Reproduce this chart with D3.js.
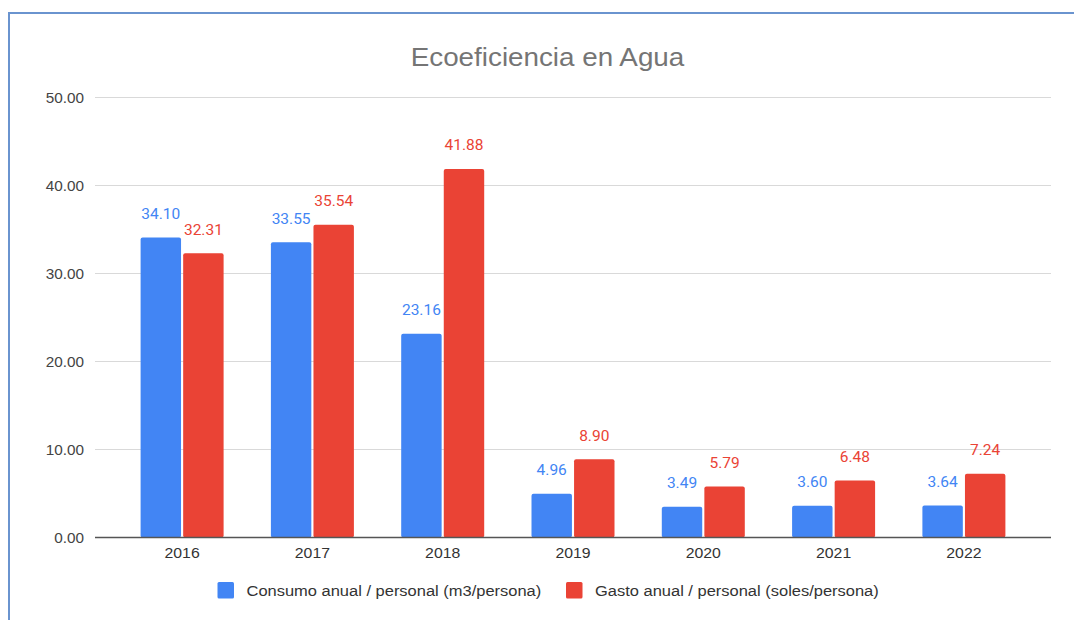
<!DOCTYPE html>
<html>
<head>
<meta charset="utf-8">
<script src="https://cdn.jsdelivr.net/npm/d3@7"></script>
<style>
  body { margin: 0; background: #fff; }
  svg { display: block; }
</style>
</head>
<body>
<div id="chart"></div>
<script>
const years = ['2016', '2017', '2018', '2019', '2020', '2021', '2022'];
const consumo = [34.10, 33.55, 23.16, 4.96, 3.49, 3.60, 3.64];
const gasto = [32.31, 35.54, 41.88, 8.90, 5.79, 6.48, 7.24];
const seriesNames = ['Consumo anual / personal (m3/persona)', 'Gasto anual / personal (soles/persona)'];
const seriesColors = ['#4285f4', '#ea4335'];
const yTicks = [0, 10, 20, 30, 40, 50];

const width = 1074, height = 620;
const stretch = 1.07; // the source screenshot is a bit wider than tall
const svg = d3.select('#chart').append('svg').attr('width', width).attr('height', height);

// frame line of the screenshot
svg.append('rect')
  .attr('x', 9).attr('y', 13).attr('width', 1100).attr('height', 700)
  .attr('fill', 'none').attr('stroke', '#6a94cf').attr('stroke-width', 2);

const plotLeft = 95, plotRight = 1051, plotTop = 97.5, plotBottom = 537.5;

const x = d3.scaleBand().domain(years).range([plotLeft, plotRight]).paddingInner(0.363).paddingOuter(0.35);
const x1 = d3.scaleBand().domain([0, 1]).range([0, x.bandwidth()]).paddingInner(0.05);
const y = d3.scaleLinear().domain([0, 50]).range([plotBottom, plotTop]);

const sans = 'Liberation Sans, Arial, sans-serif';

// title
svg.append('text')
  .attr('transform', 'translate(547.5,65.5) scale(' + stretch + ',1)')
  .attr('text-anchor', 'middle')
  .attr('font-family', sans)
  .attr('font-size', 26).attr('fill', '#757575')
  .text('Ecoeficiencia en Agua');

// grid
svg.append('g').selectAll('line')
  .data(yTicks.filter(d => d > 0))
  .enter().append('line')
  .attr('x1', plotLeft).attr('x2', plotRight)
  .attr('y1', d => y(d)).attr('y2', d => y(d))
  .attr('stroke', '#d9d9d9').attr('stroke-width', 1);

// y labels
svg.append('g').selectAll('text')
  .data(yTicks)
  .enter().append('text')
  .attr('x', 84).attr('y', d => y(d) + 5.5)
  .attr('text-anchor', 'end')
  .attr('font-family', sans)
  .attr('font-size', 15.3).attr('fill', '#444')
  .text(d => d3.format('.2f')(d));

const rows = years.map((yr, i) => ({ year: yr, vals: [consumo[i], gasto[i]] }));

const groups = svg.append('g').selectAll('g')
  .data(rows)
  .enter().append('g')
  .attr('transform', d => 'translate(' + x(d.year) + ',0)');

groups.selectAll('rect')
  .data(d => d.vals.map((v, k) => ({ v, k })))
  .enter().append('rect')
  .attr('x', d => x1(d.k))
  .attr('width', x1.bandwidth())
  .attr('y', d => y(d.v))
  .attr('height', d => y(0) - y(d.v))
  .attr('rx', 2)
  .attr('fill', d => seriesColors[d.k]);

groups.selectAll('text')
  .data(d => d.vals.map((v, k) => ({ v, k })))
  .enter().append('text')
  .attr('x', d => x1(d.k) + x1.bandwidth() / 2)
  .attr('y', d => y(d.v) - 18.5)
  .attr('text-anchor', 'middle')
  .attr('font-family', 'Roboto, sans-serif')
  .attr('font-size', 15.5)
  .attr('fill', d => seriesColors[d.k])
  .text(d => d3.format('.2f')(d.v));

// baseline
svg.append('line')
  .attr('x1', plotLeft).attr('x2', plotRight)
  .attr('y1', y(0)).attr('y2', y(0))
  .attr('stroke', '#555').attr('stroke-width', 1.5);

// x labels
svg.append('g').selectAll('text')
  .data(years)
  .enter().append('text')
  .attr('transform', d => 'translate(' + (x(d) + x.bandwidth() / 2) + ',557.5) scale(' + stretch + ',1)')
  .attr('text-anchor', 'middle')
  .attr('font-family', sans)
  .attr('font-size', 14.8).attr('fill', '#333')
  .text(d => d);

// legend
const legendX = [217.5, 566];
const legend = svg.append('g').selectAll('g')
  .data(seriesNames)
  .enter().append('g')
  .attr('transform', (d, i) => 'translate(' + legendX[i] + ',582)');
legend.append('rect')
  .attr('width', 16.5).attr('height', 16.5).attr('rx', 1.5)
  .attr('fill', (d, i) => seriesColors[i]);
legend.append('text')
  .attr('transform', 'translate(29,14) scale(' + stretch + ',1)')
  .attr('font-family', sans)
  .attr('font-size', 15.4).attr('fill', '#333')
  .text(d => d);
</script>
</body>
</html>
